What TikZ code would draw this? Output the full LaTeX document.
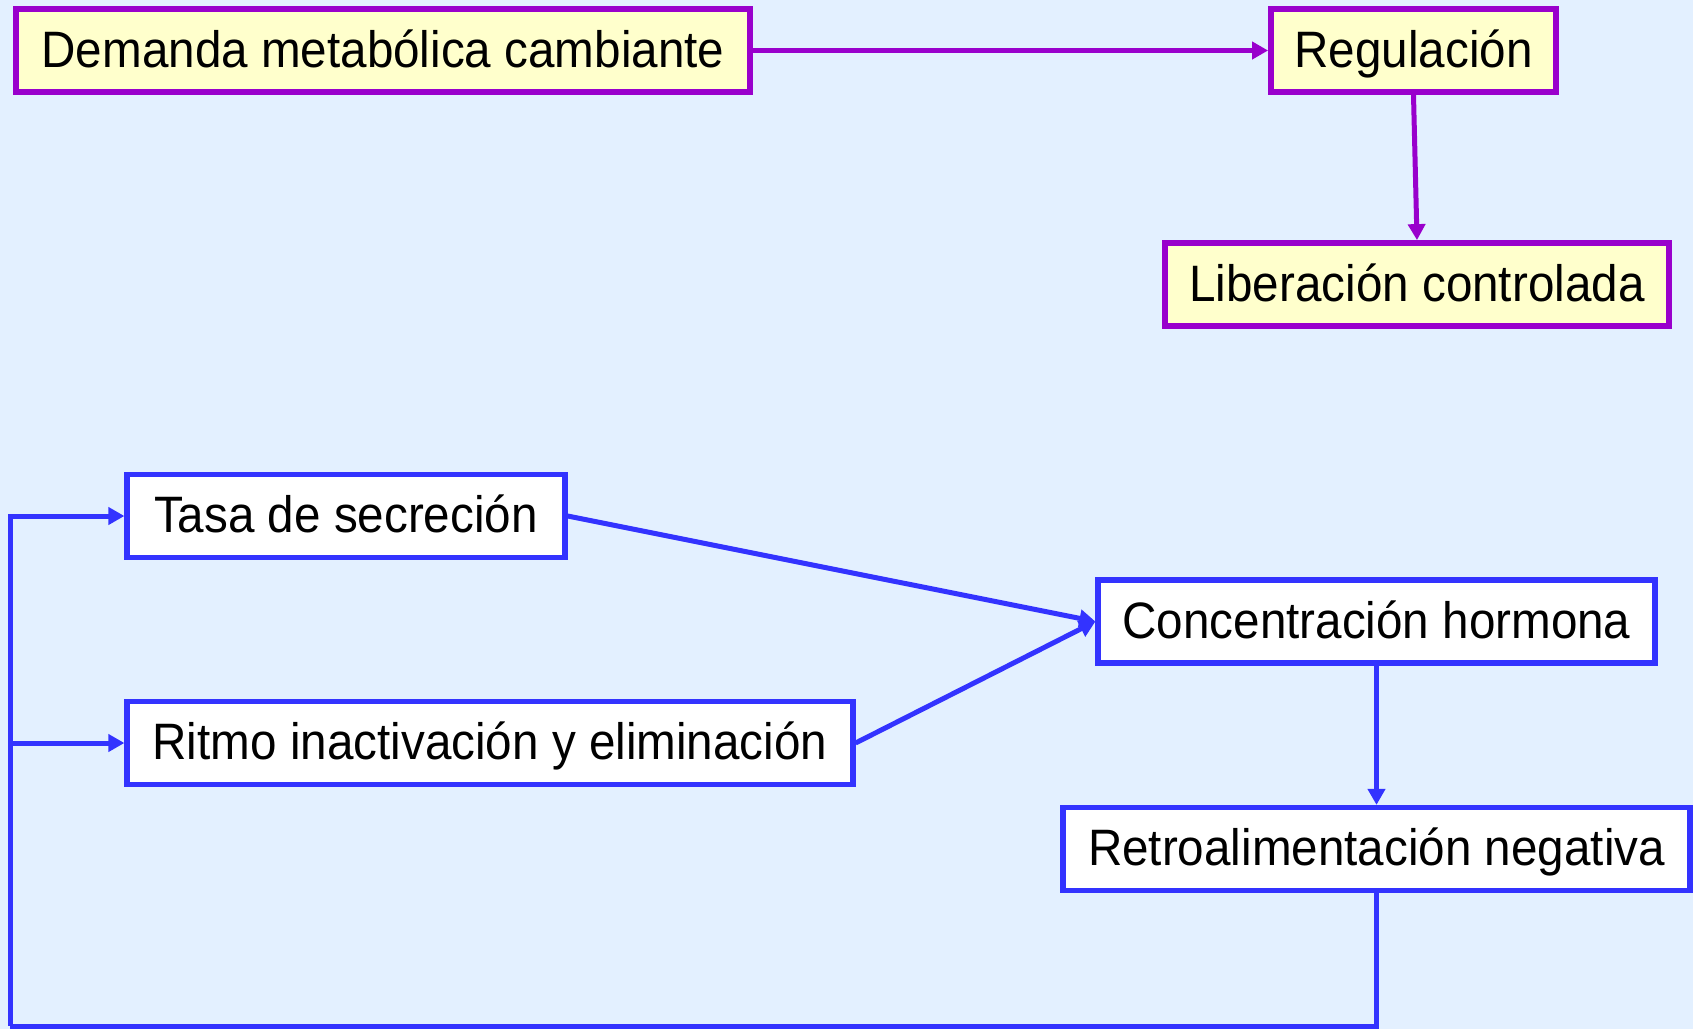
\documentclass[tikz,border=0pt]{standalone}
\usepackage{fontspec}
\setmainfont{Liberation Sans}[FakeStretch=0.93]
\usetikzlibrary{arrows.meta}

\definecolor{bgblue}{RGB}{227,240,255}
\definecolor{boxpurple}{RGB}{153,0,204}
\definecolor{boxyellow}{RGB}{255,255,204}
\definecolor{loopblue}{RGB}{51,51,255}

\tikzset{
  boxtext/.style={inner sep=0pt, minimum height=41.5pt,
    text height=22.2pt, text depth=5.4pt, font=\fontsize{25.6}{30}\selectfont},
  topbox/.style={boxtext, draw=boxpurple, fill=boxyellow, line width=2.9pt},
  lowbox/.style={boxtext, draw=loopblue, fill=white, line width=2.6pt},
  toparrow/.style={boxpurple, line width=2.5pt, -{Triangle[length=8pt,width=8.5pt]}},
  lowarrow/.style={loopblue, line width=2.5pt, -{Triangle[length=8pt,width=8.5pt]}},
  loopline/.style={loopblue, line width=2.5pt}
}

\begin{document}
\begin{tikzpicture}[x=0.5pt, y=-0.5pt]
% Background
\fill[bgblue] (0,0) rectangle (1693,1029);
\useasboundingbox (0,0) rectangle (1693,1029);

% Upper chain
\node[topbox, minimum width=367pt] (demanda) at (383,50.5) {Demanda metabólica cambiante};
\node[topbox, minimum width=142.5pt] (regul) at (1413.5,50.5) {Regulación};
\node[topbox, minimum width=252pt] (liber) at (1417,284.5) {Liberación controlada};

\draw[toparrow] (demanda.east) -- (regul.west);
\draw[toparrow] (regul.south) -- (liber.north);

% Lower loop
\node[lowbox, minimum width=219pt] (tasa) at (346,516) {Tasa de secreción};
\node[lowbox, minimum width=363pt] (ritmo) at (490,743) {Ritmo inactivación y eliminación};
\node[lowbox, minimum width=278.5pt] (conc) at (1376.5,621.5) {Concentración hormona};
\node[lowbox, minimum width=313.5pt] (retro) at (1376.5,849) {Retroalimentación negativa};

\draw[lowarrow] (tasa.east) -- (conc.west);
\draw[lowarrow] (ritmo.east) -- (conc.west);
\draw[lowarrow] (conc.south) -- (retro.north);

% Feedback back to the inputs
\coordinate (loopcorner) at (10,1026);
\draw[loopline] (retro.south) |- (loopcorner);
\draw[lowarrow] (loopcorner) |- (tasa.west);
\draw[lowarrow] (loopcorner |- ritmo.west) -- (ritmo.west);
\end{tikzpicture}
\end{document}
